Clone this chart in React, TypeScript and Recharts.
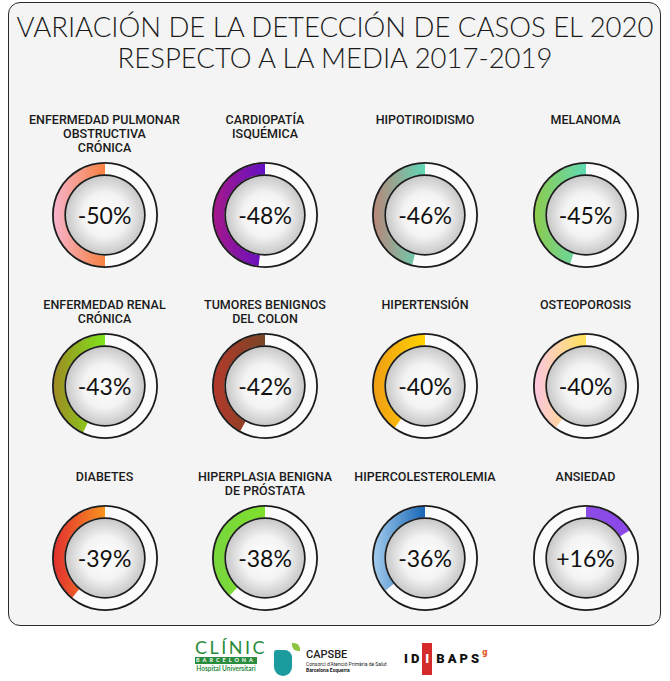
import React from 'react';
import { PieChart, Pie, Cell } from 'recharts';

// categories, values and arc colours (start = top of arc, end = far end)
const labels = [
  'ENFERMEDAD PULMONAR\nOBSTRUCTIVA\nCRÓNICA',
  'CARDIOPATÍA\nISQUÉMICA',
  'HIPOTIROIDISMO',
  'MELANOMA',
  'ENFERMEDAD RENAL\nCRÓNICA',
  'TUMORES BENIGNOS\nDEL COLON',
  'HIPERTENSIÓN',
  'OSTEOPOROSIS',
  'DIABETES',
  'HIPERPLASIA BENIGNA\nDE PRÓSTATA',
  'HIPERCOLESTEROLEMIA',
  'ANSIEDAD',
];
const values = [-50, -48, -46, -45, -43, -42, -40, -40, -39, -38, -36, 16];
const startColors = ['#f6803f', '#6410c4', '#5fd7b6', '#60d9b2', '#7fe41c', '#7a4526', '#ffd200', '#ffe35a', '#f8931f', '#7fe02c', '#1666b6', '#8a48e6'];
const endColors = ['#f7b3cc', '#a5188a', '#b8867a', '#8dcb4e', '#9e8a22', '#b3392a', '#ef9d14', '#fbc6e2', '#e12f2f', '#78d63e', '#a2cbec', '#8c4ce8'];

const colX = [104.5, 265, 425, 585.5];
const rowY = [214.5, 386, 557.5];
const labelTop = [113, 298, 470];
const SIZE = 112;

const Gauge = ({ i }: { i: number }) => {
  const v = values[i];
  const arc = [{ value: Math.abs(v) }, { value: 100 - Math.abs(v) }];
  const full = [{ value: 1 }];
  const cx = colX[i % 4];
  const cy = rowY[Math.floor(i / 4)];
  return (
    <>
      <div
        style={{
          position: 'absolute',
          left: cx - 80,
          top: labelTop[Math.floor(i / 4)],
          width: 160,
          textAlign: 'center',
          whiteSpace: 'pre-line',
          fontFamily: 'Roboto, sans-serif',
          fontWeight: 500,
          fontSize: 12.5,
          lineHeight: '14px',
          color: '#1a1a1a',
        }}
      >
        {labels[i]}
      </div>
      <div style={{ position: 'absolute', left: cx - SIZE / 2, top: cy - SIZE / 2 }}>
        <PieChart width={SIZE} height={SIZE} margin={{ top: 0, right: 0, bottom: 0, left: 0 }}>
          <defs>
            <linearGradient id={`arc${i}`} x1="1" y1="0" x2="0" y2="0">
              <stop offset="0%" stopColor={startColors[i]} />
              <stop offset="100%" stopColor={endColors[i]} />
            </linearGradient>
            <radialGradient id={`disc${i}`} cx="50%" cy="50%" r="50%">
              <stop offset="0%" stopColor="#ffffff" />
              <stop offset="55%" stopColor="#f3f3f3" />
              <stop offset="100%" stopColor="#c6c6c6" />
            </radialGradient>
          </defs>
          <Pie data={full} dataKey="value" cx="50%" cy="50%" innerRadius={40} outerRadius={52} fill="#fbfbfb" stroke="none" isAnimationActive={false} />
          <Pie data={full} dataKey="value" cx="50%" cy="50%" innerRadius={0} outerRadius={40} fill={`url(#disc${i})`} stroke="none" isAnimationActive={false} />
          <Pie
            data={arc}
            dataKey="value"
            cx="50%"
            cy="50%"
            innerRadius={40.5}
            outerRadius={51.5}
            startAngle={90}
            endAngle={v < 0 ? 450 : -270}
            stroke="none"
            isAnimationActive={false}
          >
            <Cell fill={`url(#arc${i})`} />
            <Cell fill="transparent" />
          </Pie>
          <Pie data={full} dataKey="value" cx="50%" cy="50%" innerRadius={51.2} outerRadius={53} fill="#1c1c1c" stroke="none" isAnimationActive={false} />
          <Pie data={full} dataKey="value" cx="50%" cy="50%" innerRadius={39} outerRadius={40.7} fill="#1c1c1c" stroke="none" isAnimationActive={false} />
        </PieChart>
        <div
          style={{
            position: 'absolute',
            left: 0,
            top: 0,
            width: SIZE,
            height: SIZE,
            lineHeight: `${SIZE}px`,
            textAlign: 'center',
            fontFamily: 'Lato, sans-serif',
            fontWeight: 400,
            fontSize: 23,
            color: '#111',
          }}
        >
          {v > 0 ? `+${v}%` : `${v}%`}
        </div>
      </div>
    </>
  );
};

const Logos = () => (
  <>
    {/* Clínic Barcelona */}
    <div style={{ position: 'absolute', left: 195, top: 638, width: 62, fontFamily: 'Lato, sans-serif', color: '#2a8c3c' }}>
      <div style={{ fontSize: 18, lineHeight: '18px', letterSpacing: 2.5, textAlign: 'center' }}>CLÍNIC</div>
      <div style={{ background: '#2a8c3c', color: '#fff', fontSize: 5.5, lineHeight: '7px', letterSpacing: 3, textAlign: 'center', fontWeight: 700, marginTop: 1 }}>BARCELONA</div>
      <div style={{ fontSize: 6.5, lineHeight: '10px', textAlign: 'center', fontWeight: 700 }}>Hospital Universitari</div>
    </div>
    {/* CAPSBE */}
    <div style={{ position: 'absolute', left: 274, top: 650, width: 18, height: 26, background: '#1b9b9e', borderRadius: '3px 9px 11px 11px' }} />
    <div style={{ position: 'absolute', left: 292, top: 643, width: 8, height: 8, background: '#8cc63e', borderRadius: '0 6px 0 6px' }} />
    <div style={{ position: 'absolute', left: 306, top: 649, fontFamily: 'Roboto, sans-serif', color: '#222' }}>
      <div style={{ fontSize: 11, lineHeight: '12px', fontWeight: 500 }}>CAPSBE</div>
      <div style={{ fontSize: 5, lineHeight: '6px' }}>Consorci d'Atenció Primària de Salut</div>
      <div style={{ fontSize: 5, lineHeight: '6px', fontWeight: 700 }}>Barcelona Esquerra</div>
    </div>
    {/* IDIBAPS */}
    <div style={{ position: 'absolute', left: 404, top: 651, fontFamily: 'Roboto, sans-serif', fontWeight: 900, fontSize: 13, letterSpacing: 3, color: '#111', display: 'flex', alignItems: 'center' }}>
      <span>ID</span>
      <span style={{ background: '#d42a2a', color: '#fff', padding: '8px 0 9px 3px', margin: '-8px 4px -9px 0' }}>I</span>
      <span>BAPS</span>
      <span style={{ color: '#e6542a', fontSize: 9, marginTop: -14, letterSpacing: 0 }}>g</span>
    </div>
  </>
);

const App = () => {
  return (
    <div style={{ position: 'absolute', left: 0, top: 0, width: 670, height: 681, background: '#fff', overflow: 'hidden' }}>
      <div
        style={{
          position: 'absolute',
          left: 8,
          top: 2,
          width: 651,
          height: 622,
          border: '1.5px solid #2a2a2a',
          borderRadius: 12,
          background: '#f4f4f4',
        }}
      />
      <div
        style={{
          position: 'absolute',
          left: 0,
          top: 10.5,
          width: 670,
          textAlign: 'center',
          whiteSpace: 'nowrap',
          fontFamily: 'Lato, sans-serif',
          fontWeight: 300,
          fontSize: 27.5,
          lineHeight: '31px',
          color: '#1a1a1a',
        }}
      >
        VARIACIÓN DE LA DETECCIÓN DE CASOS EL 2020
        <br />
        RESPECTO A LA MEDIA 2017-2019
      </div>
      {values.map((_, i) => (
        <Gauge key={i} i={i} />
      ))}
      <Logos />
    </div>
  );
};

export default App;
